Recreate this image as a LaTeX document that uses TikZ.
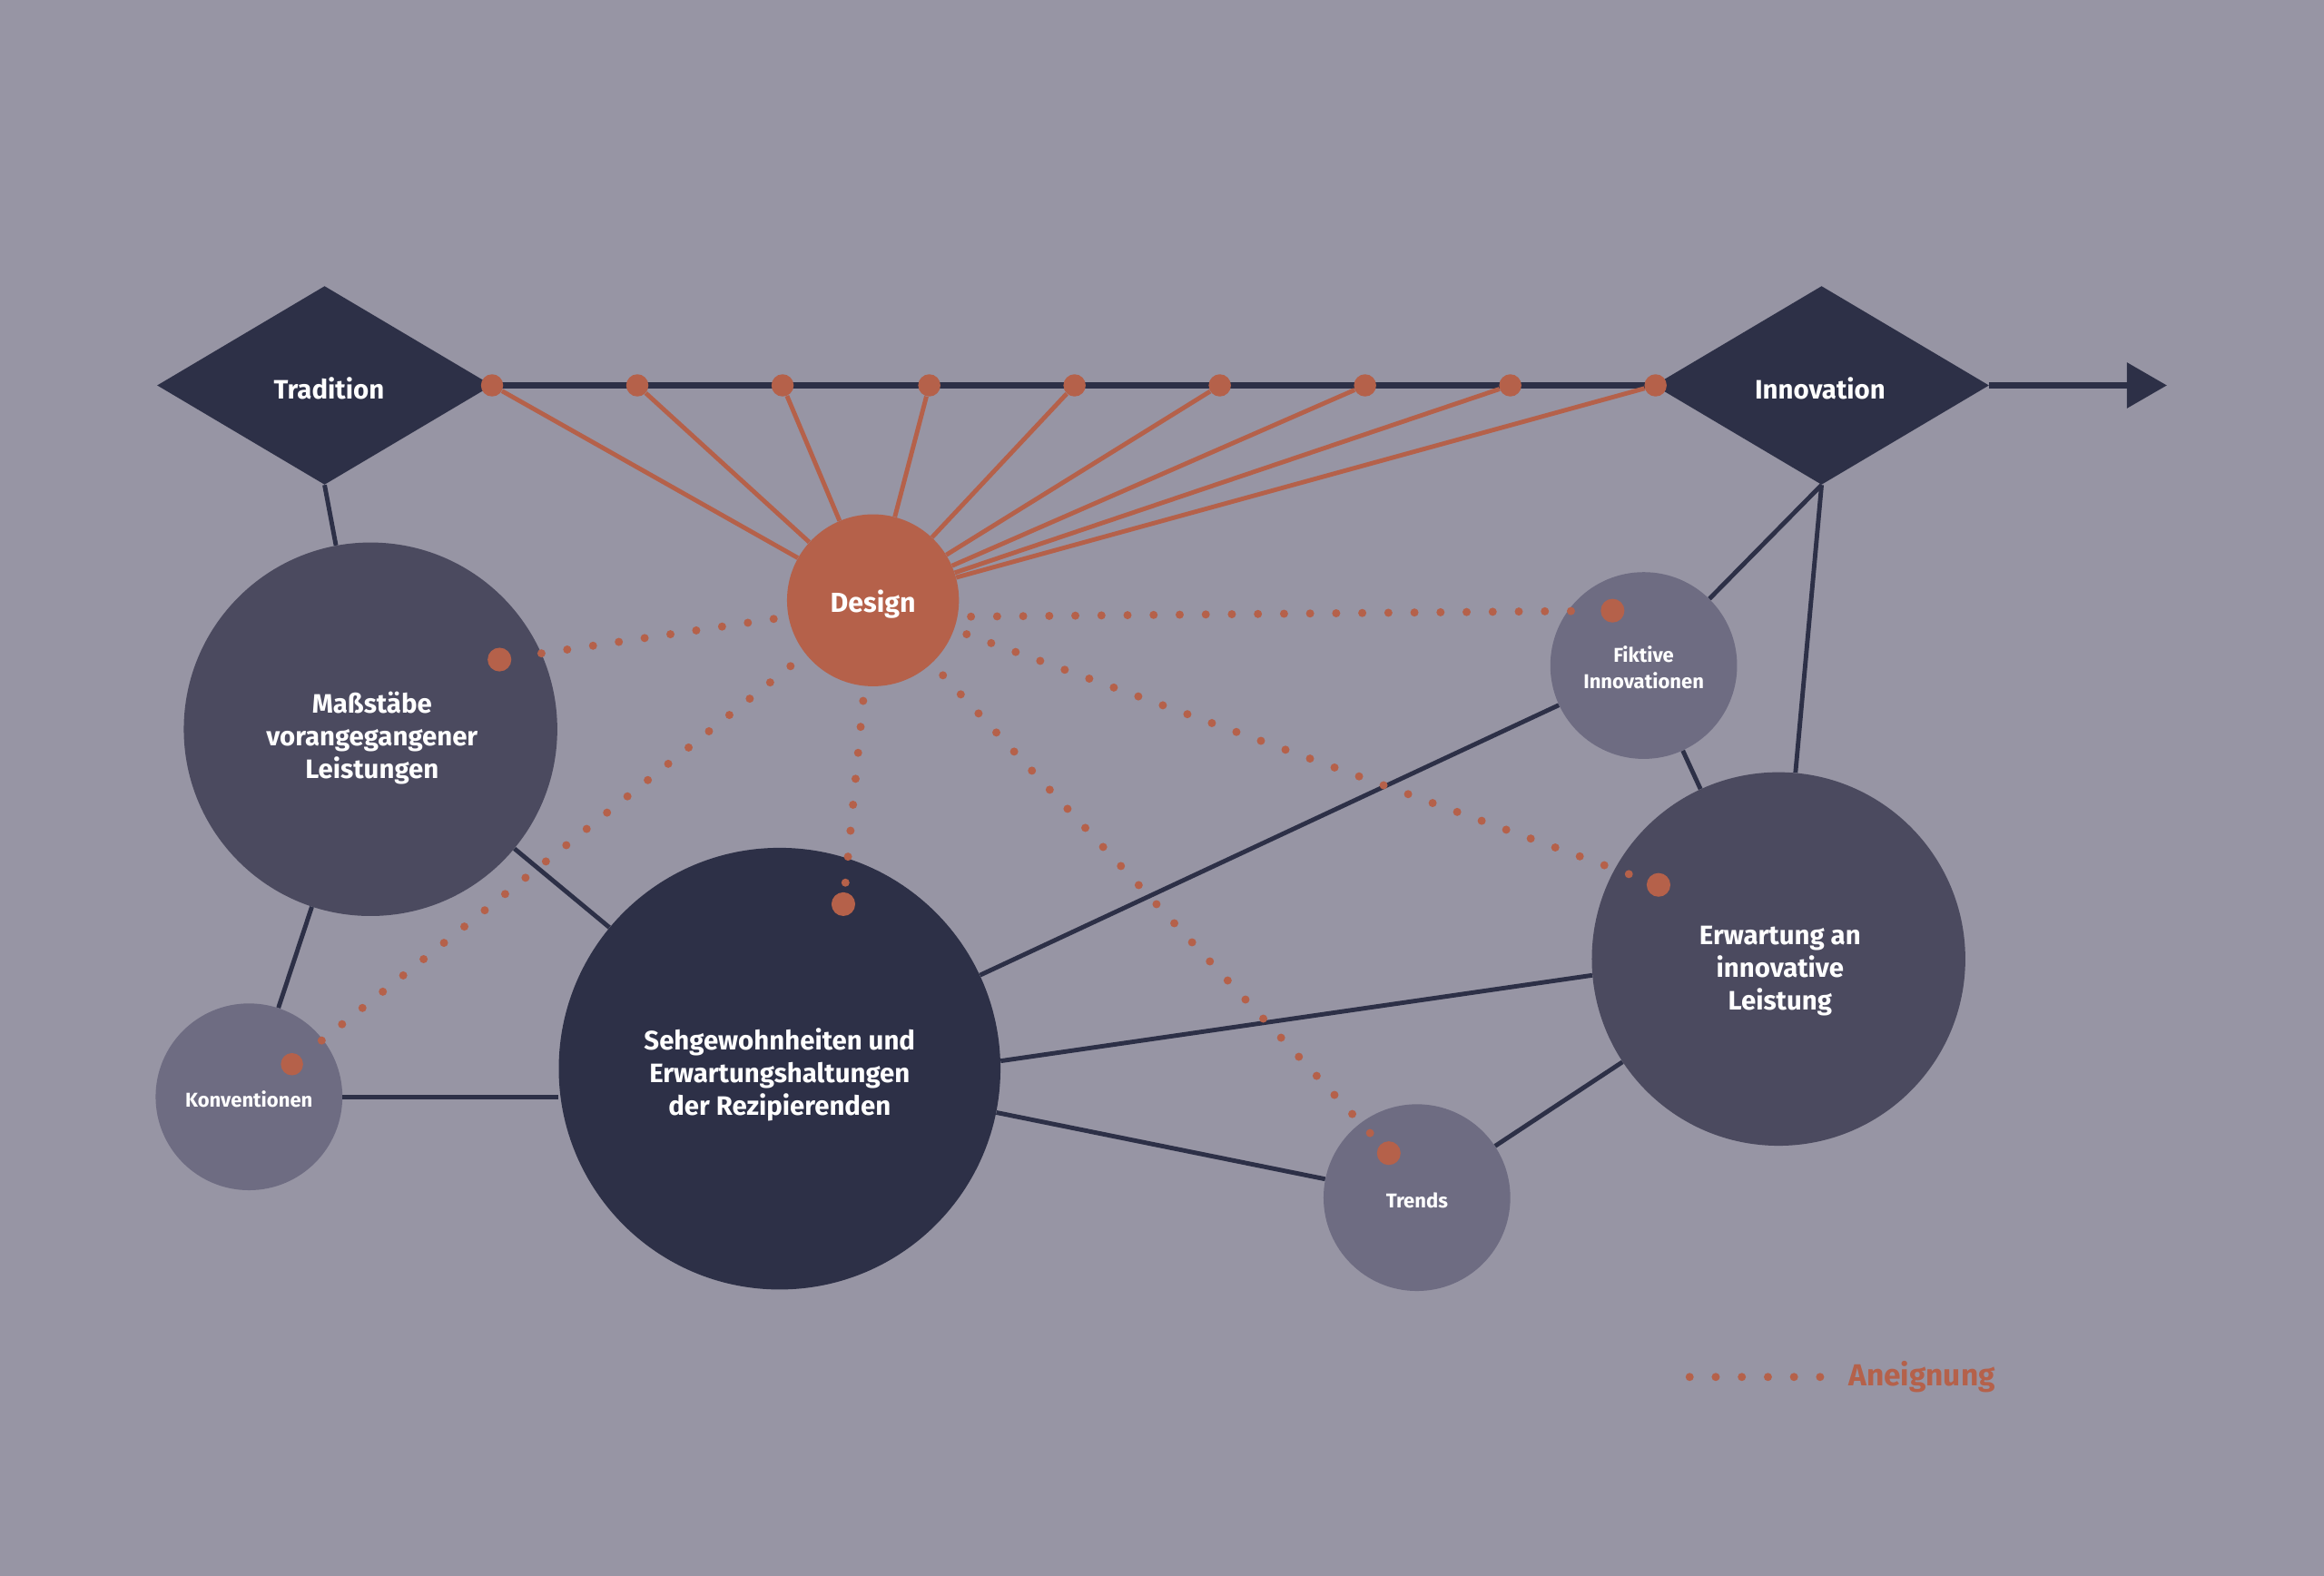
\documentclass[tikz,border=0pt]{standalone}
\usepackage{fontspec}
\setmainfont{Fira Sans}
\usetikzlibrary{shapes.geometric,arrows.meta}
\definecolor{bg}{HTML}{9795A4}
\definecolor{navy}{HTML}{2D3047}
\definecolor{midc}{HTML}{4B4A5F}
\definecolor{lightc}{HTML}{6E6C82}
\definecolor{rust}{HTML}{B5614A}
\begin{document}
\begin{tikzpicture}[x=1pt,y=-1pt,
  diam/.style={diamond, fill=navy, minimum width=226pt, minimum height=134pt, inner sep=0pt},
  bigc/.style={circle, fill=midc, minimum size=252pt, inner sep=0pt},
  smallc/.style={circle, fill=lightc, minimum size=126pt, inner sep=0pt},
  designc/.style={circle, fill=rust, minimum size=116pt, inner sep=0pt},
  biglbl/.style={text=white, align=center, inner sep=0pt, font=\bfseries\fontsize{18}{22}\selectfont},
  smalllbl/.style={text=white, align=center, inner sep=0pt, font=\bfseries\fontsize{13.5}{18}\selectfont},
  axisdot/.style={circle, fill=rust, minimum size=15pt, inner sep=0pt},
  enddot/.style={circle, fill=rust, minimum size=16pt, inner sep=0pt},
  axisline/.style={draw=navy, line width=4pt},
  conn/.style={draw=navy, line width=3pt},
  ray/.style={draw=rust, line width=3pt},
  aneig/.style={draw=rust, line width=5.5pt, line cap=round, dash pattern=on 0pt off 17.6pt},
]
\fill[bg] (0,0) rectangle (1568,1063);
\useasboundingbox (0,0) rectangle (1568,1063);

% diamonds and axis
\node[diam] (trad) at (219,260) {};
\node[diam] (inno) at (1229,260) {};
\coordinate (aend) at (1462,260);
\draw[axisline] (trad.east) -- (inno.west);
\draw[axisline, -{Triangle[length=27pt,width=30pt]}] (inno.east) -- (aend);
\node[biglbl] (tradl) at (222,262) {Tradition};
\node[biglbl] (innol) at (1228,262) {Innovation};

% circles
\node[bigc] (mass) at (250,492) {};
\node[bigc, fill=navy, minimum size=298pt] (seh) at (526,721) {};
\node[bigc] (erw) at (1200,647) {};
\node[smallc] (konv) at (168,740) {};
\node[smallc] (trends) at (956,808) {};
\node[smallc] (fikt) at (1109,449) {};
\node[designc] (design) at (589,405) {};

\node[biglbl] (massl) at (251,498) {Maßstäbe\\vorangegangener\\Leistungen};
\node[biglbl] (sehl) at (526,725) {Sehgewohnheiten und\\Erwartungshaltungen\\der Rezipierenden};
\node[biglbl] (erwl) at (1201,655) {Erwartung an\\innovative\\Leistung};
\node[smalllbl] (konvl) at (168,741.5) {Konventionen};
\node[smalllbl] (trendsl) at (956,810) {Trends};
\node[smalllbl] (fiktl) at (1109,450.5) {Fiktive\\Innovationen};
\node[biglbl, font=\bfseries\fontsize{18.6}{22}\selectfont] (designl) at (589,407.5) {Design};

% dark connectors
\draw[conn] (trad.south) -- (mass);
\draw[conn] (mass) -- (konv);
\draw[conn] (mass) -- (seh);
\draw[conn] (konv.east) -- (seh.west |- konv.east);
\draw[conn] (seh) -- (fikt);
\draw[conn] (seh.2) -- (erw.185.5);
\draw[conn] (seh) -- (trends);
\draw[conn] (trends) -- (erw);
\draw[conn] (fikt) -- (erw);
\draw[conn] (inno.south) -- (fikt);
\draw[conn] (inno.south) -- (erw);

% axis dots and rays to Design
\foreach \i/\x in {0/332,1/430,2/528,3/627,4/725,5/823,6/921,7/1019,8/1117}{
  \node[axisdot] (d\i) at (\x,260) {};
  \draw[ray] (d\i) -- (design);
}

% end dots of Aneignung
\node[enddot] (bmass) at (337,445) {};
\node[enddot, minimum size=15pt] (bkonv) at (197,718) {};
\node[enddot] (bseh) at (569,610) {};
\node[enddot] (btrends) at (937,778) {};
\node[enddot] (berw) at (1119,597) {};
\node[enddot] (bfikt) at (1088,412) {};

% Aneignung dotted lines
\draw[aneig, shorten <=10pt, shorten >=4pt] (design.191) -- (bmass);
\draw[aneig, shorten <=13pt, shorten >=4pt] (design) -- (bkonv);
\draw[aneig, shorten <=10pt, shorten >=4pt] (design) -- (bseh);
\draw[aneig, shorten <=11pt, shorten >=4pt] (design) -- (btrends);
\draw[aneig, shorten <=9pt, shorten >=4pt] (design) -- (berw);
\draw[aneig, shorten <=9pt, shorten >=4pt] (design.-11) -- (bfikt);

% legend
\node[anchor=west, inner sep=0pt, text=rust, font=\bfseries\fontsize{20.5}{24}\selectfont] (legtext) at (1247,929) {Aneignung};
\coordinate (legstart) at (1140,929);
\draw[aneig, shorten >=14pt] (legstart) -- (legtext.west |- legstart);
\end{tikzpicture}
\end{document}
